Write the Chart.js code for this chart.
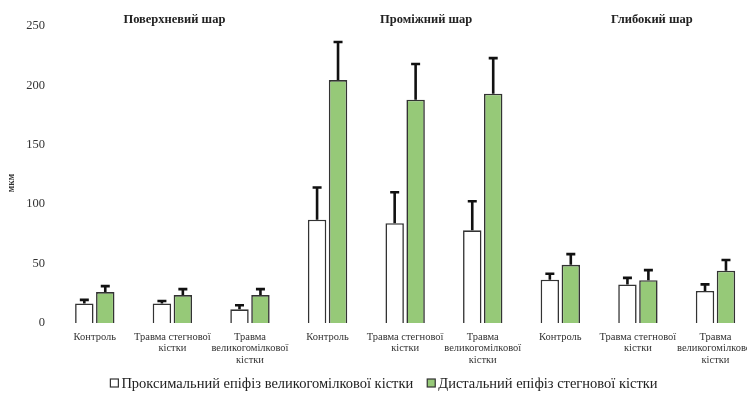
<!DOCTYPE html>
<html>
<head>
<meta charset="utf-8">
<script src="https://cdn.jsdelivr.net/npm/chart.js@4/dist/chart.umd.min.js"></script>
<style>
  html, body { margin: 0; padding: 0; background: #fff; overflow: hidden; }
  #wrap { width: 762px; height: 394px; }
</style>
</head>
<body>
<div id="wrap"><canvas id="chart"></canvas></div>
<script>
// categories (three per layer)
const categories = [
    'Контроль', ['Травма стегнової', 'кістки'], ['Травма', 'великогомілкової', 'кістки'],
    'Контроль', ['Травма стегнової', 'кістки'], ['Травма', 'великогомілкової', 'кістки'],
    'Контроль', ['Травма стегнової', 'кістки'], ['Травма', 'великогомілкової', 'кістки']
];
const groupTitles = ['Поверхневий шар', 'Проміжний шар', 'Глибокий шар'];
const seriesNames = ['Проксимальний епіфіз великогомілкової кістки', 'Дистальний епіфіз стегнової кістки'];
const unitLabel = 'мкм';

// mean values, мкм
const proximal = [16.5, 16.5, 11.5, 87, 84, 78, 36.5, 32.5, 27];
const distal = [26, 23.5, 23.5, 204.5, 188, 193, 49, 36, 44];
// standard deviations (upper error bars)
const proximalSd = [3, 2, 3.5, 27, 26, 24.5, 5, 5.5, 5.5];
const distalSd = [5, 5, 5, 32, 30, 30, 9, 8.5, 9];

const yTicks = [0, 50, 100, 150, 200, 250];

const serif = "'Liberation Serif', 'DejaVu Serif', serif";
const fills = ['#ffffff', '#96c978'];

//Draws the one-sided error bars on top of each bar
const errorBars = {
    id: 'errorBars',
    afterDatasetsDraw(chart)
    {
        const ctx = chart.ctx;
        const y = chart.scales.y;
        ctx.save();
        ctx.strokeStyle = '#111';
        ctx.lineWidth = 2.6;
        chart.data.datasets.forEach((ds, i) => {
            const meta = chart.getDatasetMeta(i);
            meta.data.forEach((bar, j) => {
                const top = y.getPixelForValue(ds.data[j] + ds.sd[j]);
                ctx.beginPath();
                ctx.moveTo(bar.x, bar.y);
                ctx.lineTo(bar.x, top);
                ctx.moveTo(bar.x - 4.5, top);
                ctx.lineTo(bar.x + 4.5, top);
                ctx.stroke();
            });
        });
        ctx.restore();
    }
};

//Layer titles, unit label and the legend row
const extras = {
    id: 'extras',
    afterDraw(chart)
    {
        const ctx = chart.ctx;
        const x = chart.scales.x;
        const shift = [2, 21, 14];
        ctx.save();
        ctx.fillStyle = '#222';
        ctx.font = 'bold 12.5px ' + serif;
        ctx.textAlign = 'center';
        ctx.textBaseline = 'middle';
        groupTitles.forEach((t, g) => {
            ctx.fillText(t, x.getPixelForValue(g * 3 + 1) + shift[g], 20);
        });

        //unit
        ctx.save();
        ctx.translate(12, 183);
        ctx.rotate(-Math.PI / 2);
        ctx.font = 'bold 9.5px ' + serif;
        ctx.fillStyle = '#333';
        ctx.fillText(unitLabel, 0, 0);
        ctx.restore();

        //legend
        ctx.font = '14.5px ' + serif;
        ctx.textAlign = 'left';
        const box = 8, gapText = 3, gapItem = 14;
        const widths = seriesNames.map((n) => box + gapText + ctx.measureText(n).width);
        let lx = 384 - (widths[0] + widths[1] + gapItem) / 2;
        const ly = 383;
        seriesNames.forEach((n, i) => {
            ctx.fillStyle = fills[i];
            ctx.fillRect(lx, ly - box / 2, box, box);
            ctx.strokeStyle = '#333';
            ctx.lineWidth = 1.2;
            ctx.strokeRect(lx, ly - box / 2, box, box);
            ctx.fillStyle = '#222';
            ctx.fillText(n, lx + box + gapText, ly + 1);
            lx += widths[i] + gapItem;
        });
        ctx.restore();
    }
};

const chart = new Chart(document.getElementById('chart'), {
    type: 'bar',
    data: {
        labels: categories,
        datasets: [
            {
                label: seriesNames[0],
                data: proximal,
                sd: proximalSd,
                backgroundColor: fills[0],
                borderColor: '#333333',
                borderWidth: 1.6,
                barPercentage: 0.88,
                categoryPercentage: 0.54
            },
            {
                label: seriesNames[1],
                data: distal,
                sd: distalSd,
                backgroundColor: fills[1],
                borderColor: '#333333',
                borderWidth: 1.6,
                barPercentage: 0.88,
                categoryPercentage: 0.54
            }
        ]
    },
    options: {
        responsive: true,
        maintainAspectRatio: false,
        animation: false,
        layout: { padding: { top: 26, bottom: 0, left: 0, right: 0 } },
        scales: {
            x: {
                grid: { display: false, drawTicks: false },
                border: { display: false },
                ticks: {
                    color: '#333',
                    font: { family: serif, size: 10.5, lineHeight: 1.12 },
                    maxRotation: 0,
                    autoSkip: false,
                    padding: 8
                },
                afterFit: (s) => { s.height = 71; }
            },
            y: {
                min: 0,
                max: 250,
                afterBuildTicks: (s) => { s.ticks = yTicks.map((v) => ({ value: v })); },
                grid: { display: false, drawTicks: false },
                border: { display: false },
                ticks: { color: '#333', font: { family: serif, size: 12.5 }, padding: 11 },
                afterFit: (s) => { s.width = 56; }
            }
        },
        plugins: {
            legend: { display: false },
            tooltip: { enabled: false }
        }
    },
    plugins: [errorBars, extras]
});
</script>
</body>
</html>
